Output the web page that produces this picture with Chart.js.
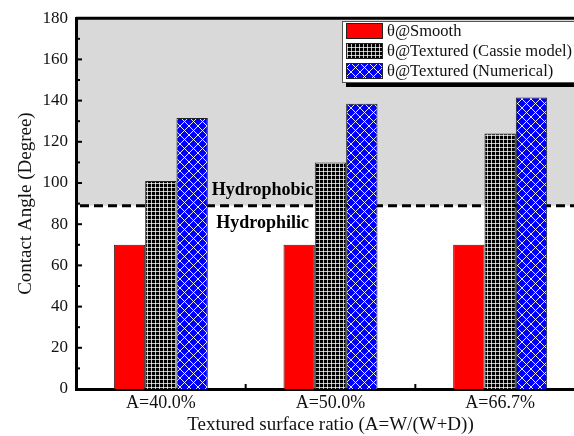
<!DOCTYPE html>
<html>
<head>
<meta charset="utf-8">
<script src="https://cdn.jsdelivr.net/npm/chart.js@4.4.0/dist/chart.umd.min.js"></script>
<style>
  html, body { margin: 0; padding: 0; background: #fff; overflow: hidden; }
  #wrap { width: 574px; height: 436px; overflow: hidden; }
</style>
</head>
<body>
<div id="wrap"><canvas id="c" width="600" height="436"></canvas></div>
<script>
// ===== Data =====
const categories = ["A=40.0%", "A=50.0%", "A=66.7%"];
const smoothAngle = [70, 70, 70];
const cassieAngle = [101, 110, 124];
const numericalAngle = [131.5, 138.5, 141.5];
const seriesNames = ["θ@Smooth", "θ@Textured (Cassie model)", "θ@Textured (Numerical)"];
const wettingLimit = 89;
const yMin = 0, yMax = 180, yStep = 20;

const SERIF = "'Liberation Serif', 'Times New Roman', serif";

// ===== Fill patterns =====
function gridPattern() {
  const t = document.createElement("canvas");
  t.width = 4; t.height = 4;
  const g = t.getContext("2d");
  g.fillStyle = "#000";
  g.fillRect(0, 0, 4, 4);
  g.fillStyle = "rgba(255,255,255,0.75)";
  g.fillRect(3, 0, 1, 4);
  g.fillRect(0, 3, 4, 1);
  return g.createPattern(t, "repeat");
}

function diamondPattern() {
  const s = 9;
  const t = document.createElement("canvas");
  t.width = s; t.height = s;
  const g = t.getContext("2d");
  g.fillStyle = "#0000ff";
  g.fillRect(0, 0, s, s);
  g.strokeStyle = "rgba(255,255,255,0.9)";
  g.lineWidth = 1;
  g.beginPath();
  g.moveTo(0, 0); g.lineTo(s, s);
  g.moveTo(s, 0); g.lineTo(0, s);
  g.stroke();
  return g.createPattern(t, "repeat");
}

const fills = ["#ff0000", gridPattern(), diamondPattern()];

// ===== Plugins =====
const wettingZones = {
  id: "wettingZones",
  beforeDraw(chart) {
    const { ctx, chartArea: a, scales: { y } } = chart;
    const top = y.getPixelForValue(yMax);
    const lim = y.getPixelForValue(wettingLimit);
    ctx.save();
    ctx.fillStyle = "#d9d9d9";
    ctx.fillRect(a.left, top, a.right - a.left, lim - top);
    ctx.restore();
  },
  beforeDatasetsDraw(chart) {
    const { ctx, chartArea: a, scales: { x, y } } = chart;
    ctx.save();
    ctx.strokeStyle = "#000";

    // top frame
    ctx.lineWidth = 3;
    ctx.beginPath();
    ctx.moveTo(a.left, y.getPixelForValue(yMax));
    ctx.lineTo(a.right, y.getPixelForValue(yMax));
    ctx.stroke();

    // dashed wetting limit
    const lim = y.getPixelForValue(wettingLimit);
    ctx.setLineDash([9, 5]);
    ctx.lineWidth = 3;
    ctx.beginPath();
    ctx.moveTo(a.left + 4, lim);
    ctx.lineTo(a.right, lim);
    ctx.stroke();
    ctx.setLineDash([]);

    // inner ticks on y
    ctx.lineWidth = 2;
    for (let v = yMin + yStep / 2; v < yMax; v += yStep / 2) {
      const py = y.getPixelForValue(v);
      const len = v % yStep === 0 ? 6 : 4;
      ctx.beginPath();
      ctx.moveTo(a.left, py);
      ctx.lineTo(a.left + len, py);
      ctx.stroke();
    }
    // inner ticks on x between groups
    for (let i = 0; i < categories.length - 1; i++) {
      const px = (x.getPixelForValue(i) + x.getPixelForValue(i + 1)) / 2;
      ctx.beginPath();
      ctx.moveTo(px, a.bottom);
      ctx.lineTo(px, a.bottom - 5);
      ctx.stroke();
    }
    ctx.restore();
  },
  afterDatasetsDraw(chart) {
    const { ctx, scales: { x, y } } = chart;
    const cx = (x.getPixelForValue(0) + x.getPixelForValue(1)) / 2 + 17;
    const lim = y.getPixelForValue(wettingLimit);
    ctx.save();
    ctx.fillStyle = "#000";
    ctx.font = "bold 18px " + SERIF;
    ctx.textAlign = "center";
    ctx.textBaseline = "middle";
    ctx.fillText("Hydrophobic", cx, lim - 15);
    ctx.fillText("Hydrophilic", cx, lim + 18);
    ctx.restore();
  },
  afterDraw(chart) {
    const { ctx } = chart;
    const bx = 342, by = 21, bw = 300, bh = 61;
    ctx.save();
    // shadow
    ctx.fillStyle = "#000";
    ctx.fillRect(bx + 4, by + bh, bw, 5);
    ctx.fillStyle = "#fff";
    ctx.fillRect(bx, by, bw, bh);
    ctx.strokeStyle = "#555";
    ctx.lineWidth = 1;
    ctx.strokeRect(bx + 0.5, by + 0.5, bw, bh);

    ctx.font = "16.5px " + SERIF;
    ctx.textBaseline = "middle";
    ctx.textAlign = "left";
    chart.data.datasets.forEach((ds, i) => {
      const ry = by + 2 + i * 20;
      ctx.fillStyle = ds.backgroundColor;
      ctx.fillRect(346, ry, 37, 16);
      ctx.strokeStyle = "#222";
      ctx.strokeRect(346.5, ry + 0.5, 36, 15);
      ctx.fillStyle = "#111";
      ctx.fillText(ds.label, 387, ry + 9);
    });
    ctx.restore();
  }
};

// ===== Chart =====
const barStyle = {
  borderColor: "#222",
  borderWidth: 1,
  barPercentage: 1,
  categoryPercentage: 0.554,
};

new Chart(document.getElementById("c"), {
  type: "bar",
  data: {
    labels: categories,
    datasets: [
      { label: seriesNames[0], data: smoothAngle, backgroundColor: fills[0], ...barStyle },
      { label: seriesNames[1], data: cassieAngle, backgroundColor: fills[1], ...barStyle },
      { label: seriesNames[2], data: numericalAngle, backgroundColor: fills[2], ...barStyle },
    ],
  },
  options: {
    responsive: false,
    animation: false,
    layout: { padding: { top: 15, right: 15, left: 0, bottom: 0 } },
    plugins: {
      legend: { display: false },
      tooltip: { enabled: false },
    },
    scales: {
      x: {
        grid: { display: false, drawTicks: false },
        border: { display: true, color: "#000", width: 3 },
        ticks: { color: "#111", font: { family: SERIF, size: 18 }, padding: 3 },
        title: {
          display: true,
          text: "Textured surface ratio (A=W/(W+D))",
          color: "#111",
          font: { family: SERIF, size: 19 },
          padding: { top: 0, bottom: 0 },
        },
        afterFit(scale) { scale.height = 47; },
      },
      y: {
        min: yMin,
        max: yMax,
        grid: { display: false, drawTicks: false },
        border: { display: true, color: "#000", width: 3 },
        ticks: { stepSize: yStep, color: "#111", font: { family: SERIF, size: 17 }, padding: 8 },
        title: {
          display: true,
          text: "Contact Angle (Degree)",
          color: "#111",
          font: { family: SERIF, size: 19 },
          padding: { top: 14.5, bottom: 0 },
        },
        afterFit(scale) { scale.width = 76; },
      },
    },
  },
  plugins: [wettingZones],
});
</script>
</body>
</html>
